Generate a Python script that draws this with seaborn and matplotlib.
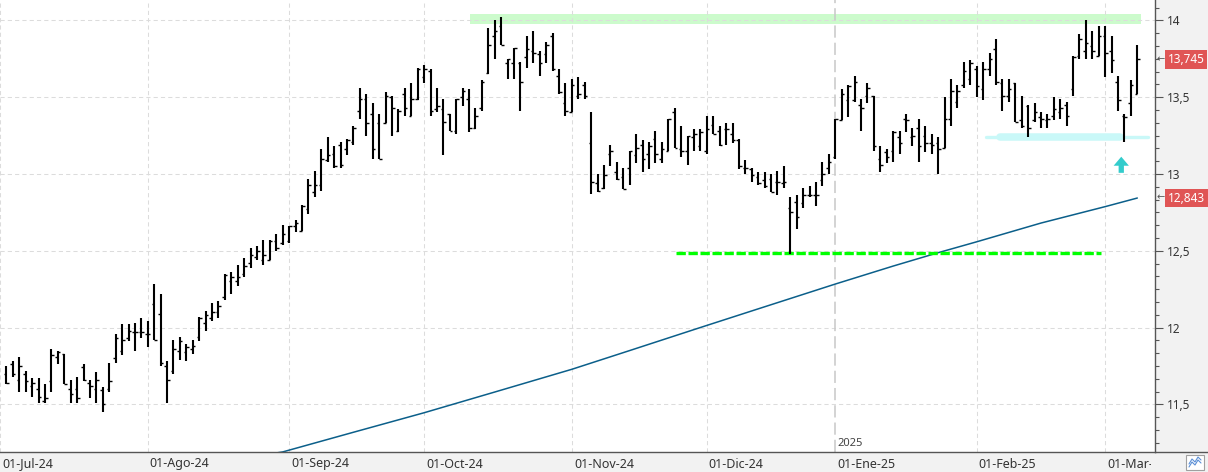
import matplotlib
matplotlib.use("Agg")
import matplotlib.pyplot as plt
from matplotlib import ticker, transforms
from matplotlib.patches import Rectangle
from matplotlib.lines import Line2D
import numpy as np
import pandas as pd
import seaborn as sns

# daily OHLC bars, one per session from 02-Jul-24 to 10-Mar-25
opens = [
    11.70, 11.76, 11.66, 11.70, 11.62, 11.60, 11.52, 11.65, 11.81, 11.83,
    11.60, 11.60, 11.74, 11.64, 11.60, 11.59, 11.60, 11.80, 11.85, 11.93,
    11.97, 11.97, 11.96, 12.15, 12.09, 11.75, 11.72, 11.85, 11.84, 11.86,
    11.94, 12.03, 12.06, 12.10, 12.20, 12.30, 12.30, 12.35, 12.42, 12.46,
    12.44, 12.44, 12.56, 12.55, 12.56, 12.66, 12.63, 12.77, 12.88, 12.93,
    13.09, 13.13, 13.19, 13.16, 13.21, 13.41, 13.49, 13.39, 13.33, 13.33,
    13.50, 13.28, 13.52, 13.38, 13.49, 13.63, 13.67, 13.42, 13.42, 13.39,
    13.28, 13.50, 13.49, 13.30, 13.43, 13.66, 13.90, 13.96, 13.72, 13.72,
    13.72, 13.76, 13.80, 13.78, 13.78, 13.90, 13.64, 13.46, 13.40, 13.51,
    13.58, 13.20, 12.94, 12.91, 13.13, 13.01, 12.98, 13.04, 13.12, 13.19,
    13.13, 13.23, 13.10, 13.15, 13.40, 13.16, 13.15, 13.24, 13.18, 13.15,
    13.32, 13.28, 13.29, 13.26, 13.22, 13.04, 13.03, 12.98, 12.96, 12.97,
    12.95, 12.94, 12.78, 12.82, 12.81, 12.86, 12.86, 12.96, 13.04, 13.11,
    13.35, 13.48, 13.48, 13.45, 13.51, 13.51, 13.10, 13.14, 13.15, 13.24,
    13.36, 13.24, 13.30, 13.25, 13.20, 13.20, 13.17, 13.36, 13.47, 13.58,
    13.62, 13.68, 13.55, 13.68, 13.81, 13.59, 13.51, 13.59, 13.35, 13.44,
    13.35, 13.37, 13.35, 13.38, 13.40, 13.45, 13.55, 13.77, 13.80, 13.83,
    13.77, 13.90, 13.80, 13.60, 13.38, 13.46, 13.52,
]
highs = [
    11.75, 11.78, 11.81, 11.72, 11.67, 11.67, 11.63, 11.86, 11.85, 11.83,
    11.66, 11.68, 11.76, 11.66, 11.71, 11.61, 11.77, 11.96, 12.02, 12.02,
    12.03, 12.06, 12.04, 12.28, 12.22, 11.78, 11.92, 11.94, 11.89, 11.92,
    12.07, 12.11, 12.16, 12.17, 12.35, 12.36, 12.41, 12.45, 12.52, 12.53,
    12.57, 12.57, 12.61, 12.67, 12.66, 12.70, 12.80, 12.97, 13.02, 13.16,
    13.24, 13.18, 13.21, 13.23, 13.31, 13.56, 13.52, 13.46, 13.39, 13.53,
    13.51, 13.42, 13.56, 13.59, 13.69, 13.71, 13.68, 13.56, 13.49, 13.39,
    13.49, 13.56, 13.55, 13.43, 13.61, 13.95, 14.00, 14.02, 13.75, 13.82,
    13.73, 13.90, 13.93, 13.80, 13.86, 13.92, 13.68, 13.59, 13.62, 13.63,
    13.60, 13.40, 13.00, 13.06, 13.19, 13.08, 13.04, 13.15, 13.26, 13.22,
    13.21, 13.28, 13.21, 13.36, 13.43, 13.31, 13.25, 13.29, 13.29, 13.38,
    13.38, 13.31, 13.33, 13.33, 13.23, 13.09, 13.04, 13.01, 13.01, 13.00,
    13.02, 13.05, 12.85, 12.86, 12.91, 12.92, 12.95, 13.08, 13.13, 13.36,
    13.55, 13.58, 13.64, 13.49, 13.59, 13.51, 13.18, 13.16, 13.28, 13.28,
    13.39, 13.30, 13.36, 13.31, 13.26, 13.24, 13.50, 13.62, 13.58, 13.73,
    13.74, 13.70, 13.73, 13.79, 13.88, 13.62, 13.62, 13.59, 13.51, 13.45,
    13.46, 13.40, 13.39, 13.50, 13.49, 13.47, 13.77, 13.91, 14.00, 13.93,
    13.96, 13.96, 13.90, 13.64, 13.39, 13.61, 13.84,
]
lows = [
    11.63, 11.68, 11.58, 11.58, 11.55, 11.51, 11.51, 11.58, 11.76, 11.63,
    11.51, 11.51, 11.65, 11.54, 11.51, 11.45, 11.58, 11.77, 11.82, 11.91,
    11.85, 11.93, 11.87, 11.92, 11.75, 11.51, 11.70, 11.79, 11.78, 11.83,
    11.91, 11.98, 12.04, 12.06, 12.18, 12.22, 12.27, 12.33, 12.39, 12.44,
    12.41, 12.44, 12.50, 12.54, 12.55, 12.62, 12.63, 12.74, 12.85, 12.89,
    13.08, 13.04, 13.04, 13.12, 13.19, 13.36, 13.25, 13.10, 13.10, 13.33,
    13.25, 13.27, 13.38, 13.38, 13.48, 13.59, 13.38, 13.40, 13.12, 13.28,
    13.26, 13.44, 13.27, 13.29, 13.41, 13.65, 13.75, 13.84, 13.62, 13.62,
    13.41, 13.69, 13.72, 13.64, 13.72, 13.67, 13.52, 13.38, 13.40, 13.49,
    13.49, 12.87, 12.88, 12.90, 13.05, 12.96, 12.90, 12.93, 13.07, 13.01,
    13.03, 13.07, 13.07, 13.15, 13.17, 13.11, 13.06, 13.15, 13.15, 13.13,
    13.26, 13.18, 13.19, 13.20, 13.03, 13.00, 12.95, 12.93, 12.91, 12.88,
    12.86, 12.91, 12.48, 12.64, 12.78, 12.85, 12.79, 12.92, 13.00, 13.10,
    13.35, 13.37, 13.47, 13.28, 13.46, 13.15, 13.01, 13.07, 13.08, 13.13,
    13.27, 13.18, 13.08, 13.14, 13.13, 13.00, 13.17, 13.31, 13.43, 13.56,
    13.58, 13.50, 13.48, 13.64, 13.58, 13.41, 13.47, 13.34, 13.30, 13.24,
    13.34, 13.30, 13.30, 13.35, 13.36, 13.31, 13.51, 13.75, 13.75, 13.75,
    13.77, 13.63, 13.66, 13.41, 13.21, 13.38, 13.52,
]
closes = [
    11.64, 11.70, 11.75, 11.65, 11.64, 11.55, 11.54, 11.82, 11.84, 11.63,
    11.57, 11.54, 11.66, 11.62, 11.66, 11.50, 11.65, 11.93, 11.92, 11.98,
    11.97, 11.97, 11.96, 11.92, 11.77, 11.66, 11.86, 11.91, 11.87, 11.88,
    12.06, 12.08, 12.10, 12.14, 12.34, 12.33, 12.33, 12.40, 12.47, 12.50,
    12.47, 12.56, 12.52, 12.61, 12.66, 12.68, 12.79, 12.93, 12.93, 13.10,
    13.12, 13.05, 13.06, 13.22, 13.30, 13.49, 13.33, 13.16, 13.10, 13.51,
    13.43, 13.41, 13.43, 13.49, 13.68, 13.68, 13.41, 13.44, 13.34, 13.28,
    13.49, 13.54, 13.30, 13.38, 13.60, 13.84, 13.93, 13.84, 13.75, 13.82,
    13.60, 13.81, 13.79, 13.72, 13.84, 13.68, 13.53, 13.41, 13.58, 13.52,
    13.51, 12.95, 12.89, 12.99, 13.15, 12.97, 12.90, 13.15, 13.17, 13.10,
    13.18, 13.13, 13.16, 13.36, 13.17, 13.15, 13.25, 13.26, 13.27, 13.29,
    13.26, 13.19, 13.29, 13.22, 13.05, 13.04, 12.99, 12.94, 12.92, 12.88,
    12.95, 12.95, 12.75, 12.72, 12.86, 12.86, 12.86, 13.00, 13.08, 13.36,
    13.52, 13.57, 13.60, 13.43, 13.56, 13.18, 13.06, 13.11, 13.27, 13.20,
    13.35, 13.25, 13.18, 13.20, 13.19, 13.16, 13.36, 13.54, 13.54, 13.67,
    13.72, 13.57, 13.68, 13.75, 13.60, 13.51, 13.55, 13.34, 13.31, 13.30,
    13.40, 13.36, 13.36, 13.42, 13.43, 13.38, 13.76, 13.88, 13.85, 13.80,
    13.90, 13.79, 13.74, 13.48, 13.37, 13.58, 13.745,
]

# long moving average at a few sessions
ma_bar = [40, 43, 54, 65, 76, 88, 97, 108, 116, 129, 138, 145, 151, 161, 171, 176]
ma_value = [11.17, 11.19, 11.318, 11.445, 11.58, 11.728, 11.85, 12.0, 12.108,
            12.283, 12.40, 12.487, 12.558, 12.68, 12.787, 12.843]

month_labels = ["01-Jul-24", "01-Ago-24", "01-Sep-24", "01-Oct-24", "01-Nov-24",
                "01-Dic-24", "01-Ene-25", "01-Feb-25", "01-Mar-25"]
year_label = "2025"
price_ticks = [11.5, 12, 12.5, 13, 13.5, 14]

# hand-drawn marks on the chart
resistance_band = (13.976, 14.041)
resistance_span = (72.1, 176.5)
support_level = 12.483
support_span = (104.2, 170.4)
base_level = 13.24
base_span = (152.4, 177.7)
base_core = (154.7, 173.3)
arrow_bar = 173.5
arrow_range = (13.007, 13.112)

W, H = 1208, 472
PANEL = "#f2f2f2"
AXIS = "#555555"
GRID = "#dcdcdc"
MA_COLOR = "#0b5f8a"
LABEL_RED = "#e05555"


def comma(v):
    return f"{v:g}".replace(".", ",")


# trading calendar (Madrid exchange); 01-Jul sits just off the left edge
holidays = pd.to_datetime(["2024-12-25", "2024-12-26", "2025-01-01"])
sessions = pd.bdate_range("2024-07-01", "2025-03-10")
sessions = sessions[~sessions.isin(holidays)]
pos = np.arange(len(sessions)) - 1
x = pos[1:]
assert len(x) == len(opens) == len(highs) == len(lows) == len(closes)

new_month = np.r_[True, sessions.month[1:] != sessions.month[:-1]]
month_pos = pos[new_month]
year_pos = pos[np.argmax(sessions.year == 2025)]

sns.set_theme(style="white")
plt.rcParams["font.family"] = ["Noto Sans", "DejaVu Sans"]

fig = plt.figure(figsize=(W / 100, H / 100), dpi=100, facecolor=PANEL)
ax = fig.add_axes([0, 20 / H, 1155 / W, 452 / H])
ax.set_facecolor("white")
ax.set_xlim(-0.2, 178.75)
ax.set_ylim(11.1895, 14.1322)

# grid
for p in price_ticks:
    ax.axhline(p, color=GRID, lw=0.75, ls=(0, (4, 3)), zorder=0.8)
for p in month_pos:
    if p != year_pos:
        ax.axvline(p, color=GRID, lw=0.75, ls=(0, (4, 3)), zorder=0.8)
ax.axvline(year_pos, color="#c8c8c8", lw=1.1, ls=(0, (8, 3.3)), zorder=0.8)

# drawn levels
ax.fill_between(resistance_span, *resistance_band, color="#ccfbcc", lw=0, zorder=0.6)
ax.plot(base_span, [base_level] * 2, color="#c9f8f8", lw=2.4,
        solid_capstyle="round", zorder=0.9)
ax.plot(base_core, [base_level] * 2, color="#c9f8f8", lw=5.4,
        solid_capstyle="round", zorder=0.9)
ax.plot(support_span, [support_level] * 2, color="#00ff00", lw=2.4,
        ls=(0, (2.8, 0.8)), zorder=2.2)

# moving average
sns.lineplot(x=ma_bar, y=ma_value, ax=ax, color=MA_COLOR, lw=1.1, zorder=2)

# OHLC bars
ax.vlines(x, lows, highs, color="black", lw=1.5, zorder=3)
ax.hlines(opens, x - 0.4, x, color="black", lw=1.0, zorder=3)
ax.hlines(closes, x, x + 0.4, color="black", lw=1.0, zorder=3)

ax.annotate("", xy=(arrow_bar, arrow_range[1]), xytext=(arrow_bar, arrow_range[0]),
            arrowprops=dict(arrowstyle="simple,head_length=0.65,head_width=1.1,tail_width=0.38",
                            color="#33cccc", mutation_scale=10, shrinkA=0, shrinkB=0, lw=0),
            zorder=3)

# axes styling
for side in ["left", "top"]:
    ax.spines[side].set_visible(False)
for side in ["right", "bottom"]:
    ax.spines[side].set_color(AXIS)
    ax.spines[side].set_linewidth(1.0)

ax.yaxis.tick_right()
ax.set_yticks(price_ticks)
ax.yaxis.set_major_formatter(ticker.FuncFormatter(lambda v, _: comma(v)))
ax.yaxis.set_minor_locator(ticker.MultipleLocator(0.5 / 6))
ax.tick_params(axis="y", which="major", direction="out", length=5.8, width=0.8,
               color=AXIS, labelcolor="#333333", labelsize=8.5, pad=2.5)
ax.tick_params(axis="y", which="minor", direction="out", length=2.9, width=0.8, color=AXIS)
ax.set_xticks(month_pos)
ax.tick_params(axis="x", direction="out", length=5.8, width=0.8, color=AXIS,
               labelbottom=False)
ax.set_xlabel("")
ax.set_ylabel("")

# month labels sit right of their tick, cut at the price panel
clip = transforms.Bbox.from_extents(0, 0, 1151, H)
for p, lab in zip(month_pos, month_labels):
    t = ax.annotate(lab, xy=(p, 0), xycoords=("data", "axes fraction"),
                    xytext=(2, -12), textcoords="offset pixels",
                    ha="left", va="center", fontsize=9, color="#333333",
                    annotation_clip=False)
    t.set_clip_box(clip)
    t.set_clip_on(True)

ax.annotate(year_label, xy=(year_pos, 0), xycoords=("data", "axes fraction"),
            xytext=(2, 9), textcoords="offset pixels", ha="left", va="center",
            fontsize=8, color="#444444", annotation_clip=False)

# last price and average flags
for val in [closes[-1], ma_value[-1]]:
    ax.annotate(comma(round(val, 3)), xy=(1, val), xycoords=("axes fraction", "data"),
                xytext=(13, 0), textcoords="offset pixels", ha="left", va="center",
                fontsize=8.5, color="white", annotation_clip=False,
                bbox=dict(boxstyle="square,pad=0.22", fc=LABEL_RED, ec="none"))
    ax.annotate("←", xy=(1, val), xycoords=("axes fraction", "data"),
                xytext=(2, 0), textcoords="offset pixels", ha="left", va="center",
                fontsize=7, color="#555555", annotation_clip=False)

# bottom line runs under the price panel, small toggle button in the corner
fig.add_artist(Line2D([1155 / W, 1], [20 / H, 20 / H], transform=fig.transFigure,
                      color=AXIS, lw=1.0))
fig.add_artist(Rectangle((1186 / W, 2 / H), 18 / W, 15 / H, transform=fig.transFigure,
                         fc="white", ec="#a0a0a0", lw=0.8))
fig.add_artist(Line2D(np.array([1189, 1192, 1195, 1198, 1201]) / W,
                      np.array([8, 13, 10, 15, 12]) / H, transform=fig.transFigure,
                      color="#5b8fd6", lw=0.8))
fig.add_artist(Line2D(np.array([1189, 1192, 1195, 1198, 1201]) / W,
                      np.array([5, 10, 7, 12, 9]) / H, transform=fig.transFigure,
                      color="#5b8fd6", lw=0.8))

fig.savefig("out.png", dpi=100, facecolor=PANEL)
